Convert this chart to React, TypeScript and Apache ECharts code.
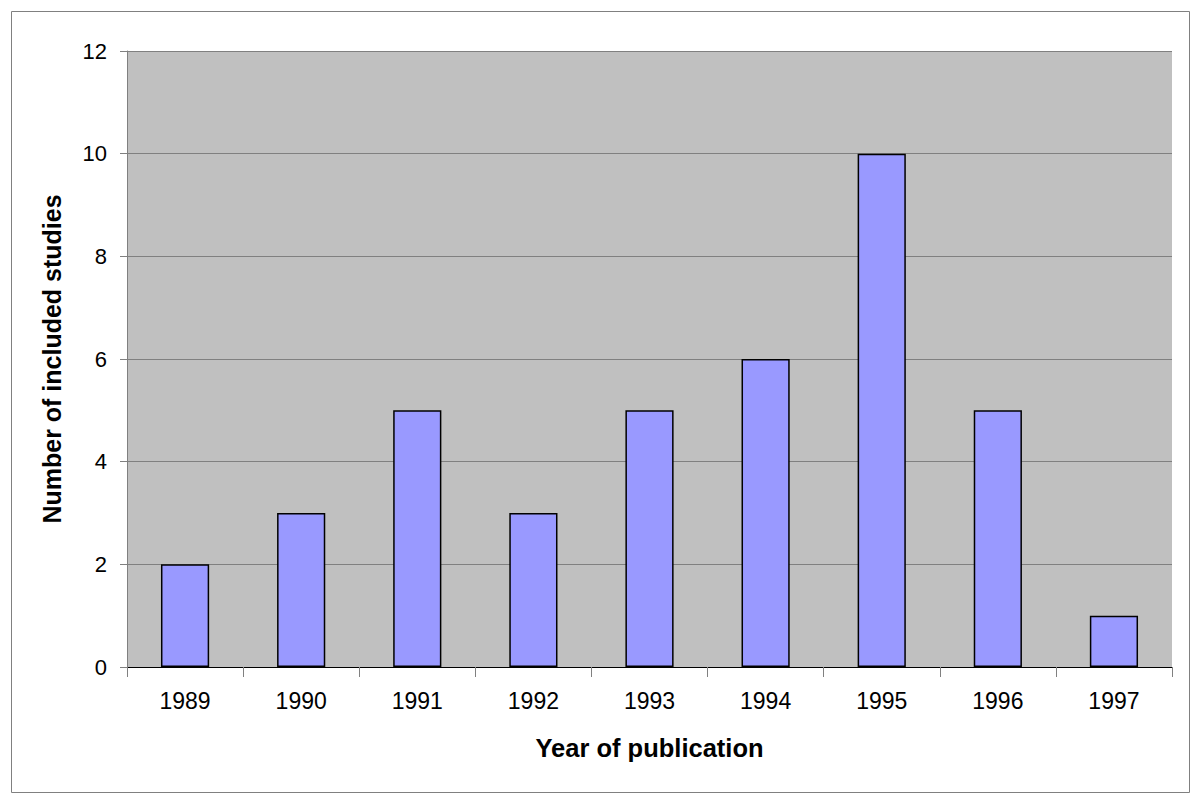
import React, { useEffect, useRef } from "react";
import * as echarts from "echarts";

const years = ["1989", "1990", "1991", "1992", "1993", "1994", "1995", "1996", "1997"];
const studies = [2, 3, 5, 3, 5, 6, 10, 5, 1];
const yTicks = { min: 0, max: 12, interval: 2 };

export default function App() {
  const ref = useRef<HTMLDivElement>(null);
  useEffect(() => {
    const chart = echarts.init(ref.current!, null, { renderer: "svg" });
    chart.setOption({
      animation: false,
      backgroundColor: "#ffffff",
      textStyle: { fontFamily: "Liberation Sans, Arial, Helvetica, sans-serif" },
      graphic: [
        {
          type: "rect",
          shape: { x: 11.5, y: 11.5, width: 1178, height: 781 },
          style: { fill: "none", stroke: "#808080", lineWidth: 1 },
          silent: true,
        },
      ],
      grid: { left: 127, top: 51, width: 1045, height: 616, show: true, backgroundColor: "#C0C0C0", borderWidth: 0 },
      xAxis: {
        type: "category",
        data: years,
        name: "Year of publication",
        nameLocation: "middle",
        nameGap: 68,
        nameTextStyle: { fontSize: 25.5, fontWeight: "bold", color: "#000" },
        axisLine: { show: true, lineStyle: { color: "#000", width: 1 } },
        axisTick: { show: true, length: 10, alignWithLabel: false, lineStyle: { color: "#808080" } },
        axisLabel: { fontSize: 23, color: "#000", margin: 22 },
        boundaryGap: true,
      },
      yAxis: {
        type: "value",
        min: yTicks.min,
        max: yTicks.max,
        interval: yTicks.interval,
        name: "Number of included studies",
        nameLocation: "middle",
        nameGap: 63,
        nameRotate: 90,
        nameTextStyle: { fontSize: 25, fontWeight: "bold", color: "#000" },
        axisLine: { show: true, lineStyle: { color: "#808080", width: 1 } },
        axisTick: { show: true, length: 7, lineStyle: { color: "#808080" } },
        axisLabel: { fontSize: 22, color: "#000", margin: 20 },
        splitLine: { show: true, lineStyle: { color: "#808080", width: 1 } },
      },
      series: [
        {
          type: "bar",
          data: studies,
          barWidth: "41.5%",
          itemStyle: { color: "#9999FF", borderColor: "#000", borderWidth: 1.5 },
        },
      ],
    });
    return () => chart.dispose();
  }, []);
  return <div ref={ref} style={{ position: "fixed", left: 0, top: 0, width: 1200, height: 804 }} />;
}
